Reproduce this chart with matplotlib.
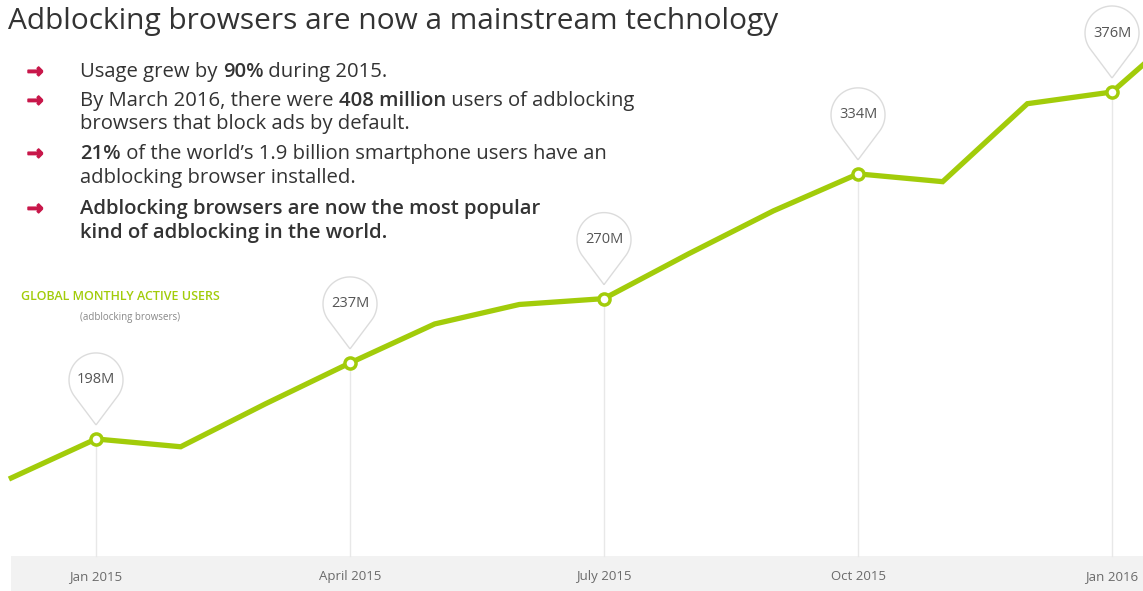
import numpy as np
import matplotlib.pyplot as plt
import matplotlib.transforms as mtransforms
import matplotlib.patheffects as pe
from matplotlib.path import Path
from matplotlib.patches import PathPatch

plt.rcParams['font.family'] = ['Open Sans', 'DejaVu Sans']

# monthly active users of adblocking browsers, millions
months = ['Dec 2014', 'Jan 2015', 'Feb 2015', 'Mar 2015', 'Apr 2015', 'May 2015',
          'Jun 2015', 'Jul 2015', 'Aug 2015', 'Sep 2015', 'Oct 2015', 'Nov 2015',
          'Dec 2015', 'Jan 2016', 'Feb 2016']
users = [178, 198, 194, 216, 237, 257, 267, 270, 293, 315, 334, 330, 370, 376, 414]

# quarters that get a pin and an axis label
pin_idx = [1, 4, 7, 10, 13]
pin_labels = ['198M', '237M', '270M', '334M', '376M']
tick_labels = ['Jan 2015', 'April 2015', 'July 2015', 'Oct 2015', 'Jan 2016']

GREEN = '#a2cc0a'
RED = '#c8174a'
DARK = '#333333'

fig = plt.figure(figsize=(11.43, 5.91), dpi=100)
ax = fig.add_axes([0, 0, 1, 1])
ax.set_xlim(-0.134, 13.366)
ax.set_ylim(120, 423.2)
ax.axis('off')

x = np.arange(len(months))

# grey band for the month labels
ax.fill_between([0, 14], 120, 138, color='#f2f2f2', zorder=0, lw=0)
for i, lab in zip(pin_idx, tick_labels):
    ax.text(x[i], 127.5, lab, ha='center', va='center', fontsize=9.5, color='#6a6a6a')

# drop lines from each pinned point down to the band
for i in pin_idx:
    ax.plot([x[i], x[i]], [138, users[i]], color='#e8e8e8', lw=1, zorder=1)

ax.plot(x, users, color=GREEN, lw=3.8, solid_joinstyle='miter', zorder=3)
ax.plot(x[pin_idx], np.array(users)[pin_idx], 'o', ms=8, mfc='white', mec=GREEN,
        mew=2.5, zorder=4)

# teardrop pins, sized in inches above each point
r, c, t = 0.27, 0.59, 0.14
half = np.degrees(np.arccos(r / (c - t)))
ang = np.radians(np.linspace(-90 + half, 270 - half, 120))
verts = [(0, t)] + list(zip(r * np.cos(ang), c + r * np.sin(ang))) + [(0, t)]
pin = Path(verts)
for i, lab in zip(pin_idx, pin_labels):
    trans = fig.dpi_scale_trans + mtransforms.ScaledTranslation(x[i], users[i], ax.transData)
    ax.add_patch(PathPatch(pin, transform=trans, facecolor='white',
                           edgecolor='#dcdcdc', lw=1, zorder=2))
    ax.annotate(lab, xy=(x[i], users[i]), xytext=(0, c * 72), textcoords='offset points',
                ha='center', va='center', fontsize=10.5, color='#555555', zorder=5)

# title and bullet notes
fig.text(0.007, 0.963, 'Adblocking browsers are now a mainstream technology',
         fontsize=21.5, color=DARK, va='center', ha='left')

lines = [
    (True, [('Usage grew by ', 'normal'), ('90%', 'semibold'), (' during 2015.', 'normal')]),
    (True, [('By March 2016, there were ', 'normal'), ('408 million', 'semibold'),
            (' users of adblocking', 'normal')]),
    (False, [('browsers that block ads by default.', 'normal')]),
    (True, [('21%', 'semibold'),
            (' of the world\u2019s 1.9 billion smartphone users have an', 'normal')]),
    (False, [('adblocking browser installed.', 'normal')]),
    (True, [('Adblocking browsers are now the most popular', 'semibold')]),
    (False, [('kind of adblocking in the world.', 'semibold')]),
]
line_y = [72, 101, 124, 154, 178, 209, 233]
H = 591.0
for (arrow, parts), py in zip(lines, line_y):
    yf = 1 - py / H
    if arrow:
        fig.text(27 / 1143, yf, '\u2192', fontsize=14, fontweight='bold', color=RED,
                 va='center', family=['DejaVu Sans'],
                 path_effects=[pe.withStroke(linewidth=1.2, foreground=RED)])
    prev = None
    for s, w in parts:
        if prev is None:
            prev = fig.text(80 / 1143, yf, s, fontsize=14.6, fontweight=w, color=DARK,
                            va='center', ha='left')
        else:
            prev = ax.annotate(s, xy=(1, 0.5), xycoords=prev, va='center', ha='left',
                               fontsize=14.6, fontweight=w, color=DARK)

fig.text(120 / 1143, 1 - 297 / H, 'GLOBAL MONTHLY ACTIVE USERS', fontsize=9,
         color=GREEN, ha='center', va='center', fontweight='semibold')
fig.text(130 / 1143, 1 - 318 / H, '(adblocking browsers)', fontsize=7,
         color='#888888', ha='center', va='center')

fig.savefig('out.png', dpi=100)
